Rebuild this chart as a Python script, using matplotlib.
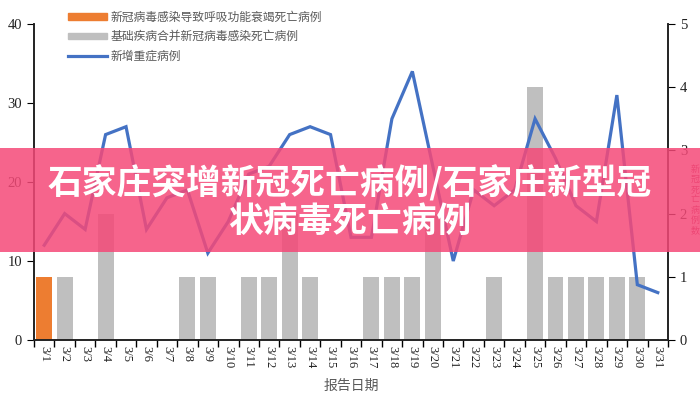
import numpy as np
import matplotlib.pyplot as plt
from matplotlib.patches import Patch, Rectangle
from matplotlib.lines import Line2D

plt.rcParams['font.family'] = ['Noto Sans CJK SC', 'DejaVu Sans']

dates = ['3/%d' % d for d in range(1, 32)]
# new severe cases (left axis)
severe = [12, 16, 14, 26, 27, 14, 18, 19, 11, 15, 21, 22, 26, 27, 26, 13,
          13, 28, 34, 22, 10, 19, 17, 19, 28, 23, 17, 15, 31, 7, 6]
# deaths from respiratory failure (right axis)
resp_deaths = [1] + [0] * 30
# deaths with underlying disease (right axis)
base_deaths = [0, 1, 0, 2, 0, 0, 0, 1, 1, 0, 1, 1, 2, 1, 0, 0,
               1, 1, 1, 2, 0, 0, 1, 0, 4, 1, 1, 1, 1, 1, 0]

legend_labels = ['新冠病毒感染导致呼吸功能衰竭死亡病例',
                 '基础疾病合并新冠病毒感染死亡病例',
                 '新增重症病例']
banner_line1 = '石家庄突增新冠死亡病例/石家庄新型冠'
banner_line2 = '状病毒死亡病例'

orange = '#ED7D31'
gray = '#BFBFBF'
blue = '#4472C4'
serif = 'Liberation Serif'

fig = plt.figure(figsize=(7, 4), dpi=100)
ax = fig.add_axes([34/700, 60/400, 634/700, 316/400])
ax2 = ax.twinx()

x = np.arange(len(dates))
ax2.bar(x, resp_deaths, width=0.78, color=orange, zorder=2)
ax2.bar(x, base_deaths, width=0.78, color=gray, zorder=2)
ax2.set_ylim(0, 5)
ax2.set_yticks(range(6))

# line drawn on top of bars
ax.set_zorder(ax2.get_zorder() + 1)
ax.patch.set_visible(False)
ax.plot(x, severe, color=blue, lw=2.3, solid_joinstyle='miter')
ax.set_ylim(0, 40)
ax.set_yticks([0, 10, 20, 30, 40])
ax.set_xlim(-0.5, len(dates) - 0.5)
ax.set_xticks(np.arange(len(dates) + 1) - 0.5)
ax.set_xticklabels([])
ax.set_xticks(x, minor=True)
ax.set_xticklabels(dates, minor=True, rotation=-90, fontfamily=serif,
                   fontsize=9, color='#222222')
ax.tick_params(axis='x', which='minor', length=0, pad=4)
ax.tick_params(axis='x', which='major', length=5, direction='out', width=1)

for a in (ax, ax2):
    a.spines['top'].set_visible(False)
    for s in ('left', 'right', 'bottom'):
        a.spines[s].set_color('#222222')
        a.spines[s].set_linewidth(1.2)
ax.tick_params(axis='y', length=5, direction='out', labelsize=10.5,
               labelcolor='#222222')
ax2.tick_params(axis='y', length=5, direction='out', labelsize=10.5,
                labelcolor='#222222')
for lab in ax.get_yticklabels() + ax2.get_yticklabels():
    lab.set_fontfamily(serif)

ax.set_xlabel('报告日期', fontsize=10, color='#595959', labelpad=8)

handles = [Patch(color=orange), Patch(color=gray),
           Line2D([], [], color=blue, lw=2.3)]
fig.legend(handles, legend_labels, loc='upper left',
           bbox_to_anchor=(57/700, 1.0), frameon=False, fontsize=8.5,
           labelcolor='#595959', handlelength=3.3, handleheight=0.5,
           labelspacing=0.55, handletextpad=0.3)

# right side vertical label (only faintly visible)
fig.text(695/700, 0.5, '新\n冠\n死\n亡\n病\n例\n数', ha='center', va='center',
         fontsize=6.5, color='#c03560', linespacing=1.15)

# overlay banner
fig.patches.append(Rectangle((0, 148/400), 1, 104/400, transform=fig.transFigure,
                             facecolor='#F54978', alpha=0.85, zorder=10,
                             edgecolor='none'))
fig.text(0.5, 1 - 183/400, banner_line1, ha='center', va='center',
         fontsize=25, fontweight='bold', color='white', zorder=11)
fig.text(0.5, 1 - 221/400, banner_line2, ha='center', va='center',
         fontsize=25, fontweight='bold', color='white', zorder=11)

fig.savefig('out.png', dpi=100)
